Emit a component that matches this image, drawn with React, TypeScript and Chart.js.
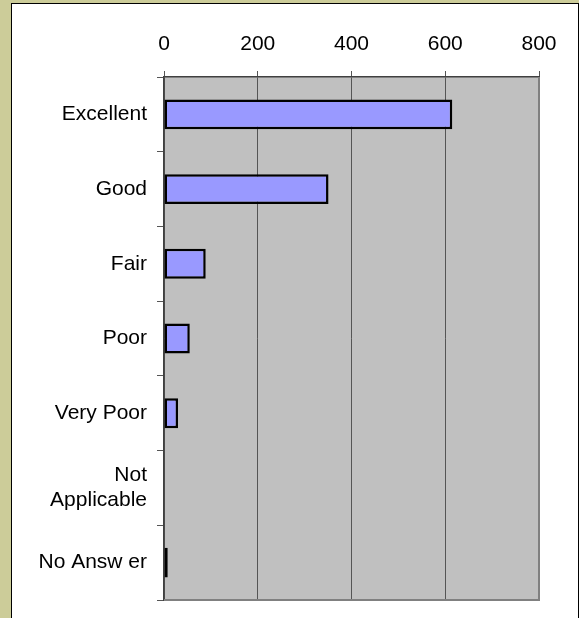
import React, { useEffect, useRef } from "react";
import { Chart, registerables } from "chart.js";

Chart.register(...registerables);

const categories: (string | string[])[] = [
  "Excellent",
  "Good",
  "Fair",
  "Poor",
  "Very Poor",
  ["Not", "Applicable"],
  "No Answ er",
];
const responses = [615, 351, 89, 55, 30, 0, 8];
const axisMin = 0;
const axisMax = 800;
const axisStep = 200;

const plotBg = {
  id: "plotBg",
  beforeDraw(chart: any) {
    const { ctx, chartArea: a } = chart;
    ctx.save();
    ctx.fillStyle = "#c0c0c0";
    ctx.fillRect(a.left, a.top, a.right - a.left, a.bottom - a.top);
    ctx.restore();
  },
  afterDatasetsDraw(chart: any) {
    const { ctx, chartArea: a } = chart;
    ctx.save();
    ctx.strokeStyle = "#808080";
    ctx.lineWidth = 2;
    ctx.beginPath();
    ctx.moveTo(a.left, a.bottom);
    ctx.lineTo(a.right, a.bottom);
    ctx.lineTo(a.right, a.top);
    ctx.stroke();
    ctx.restore();
  },
};

export default function App() {
  const ref = useRef<HTMLCanvasElement>(null);
  useEffect(() => {
    if (!ref.current) return;
    Chart.defaults.font.family = "'Liberation Sans', Arial, sans-serif";
    const chart = new Chart(ref.current, {
      type: "bar",
      data: {
        labels: categories as any,
        datasets: [
          {
            data: responses,
            backgroundColor: "#9999ff",
            borderColor: "#000000",
            borderWidth: 2.5,
            borderSkipped: false,
            barPercentage: 0.4,
            categoryPercentage: 1,
          },
        ],
      },
      options: {
        indexAxis: "y",
        animation: false,
        responsive: false,
        maintainAspectRatio: false,
        layout: { padding: { left: 0, top: 0, right: 39, bottom: 18 } },
        plugins: { legend: { display: false }, tooltip: { enabled: false } },
        scales: {
          x: {
            position: "top",
            min: axisMin,
            max: axisMax,
            ticks: { stepSize: axisStep, color: "#000", font: { size: 21 }, padding: 14 },
            grid: {
              color: (c: any) => (c.tick && c.tick.value === axisMax ? "#808080" : "#555555"),
              lineWidth: 1,
              tickLength: 6,
              tickColor: "#555555",
            },
            border: { color: "#404040", width: 1.5 },
            afterFit: (s: any) => {
              s.height = 73;
            },
          },
          y: {
            ticks: { color: "#000", font: { size: 21 }, padding: 10 },
            grid: {
              offset: true,
              drawOnChartArea: false,
              tickLength: 7,
              color: "#555555",
            },
            border: { color: "#404040", width: 1.5 },
            afterFit: (s: any) => {
              s.width = 152;
              s.paddingTop = 0;
              s.paddingBottom = 0;
            },
          },
        },
      },
      plugins: [plotBg],
    });
    return () => chart.destroy();
  }, []);

  return (
    <div
      style={{
        position: "fixed",
        left: 0,
        top: 0,
        width: 579,
        height: 618,
        background: "#cccc99",
        overflow: "hidden",
      }}
    >
      <div
        style={{
          position: "absolute",
          left: 11,
          top: 3,
          width: 566,
          height: 640,
          background: "#ffffff",
          border: "1.5px solid #000",
        }}
      >
        <canvas ref={ref} width={566} height={614} style={{ display: "block" }} />
      </div>
    </div>
  );
}
